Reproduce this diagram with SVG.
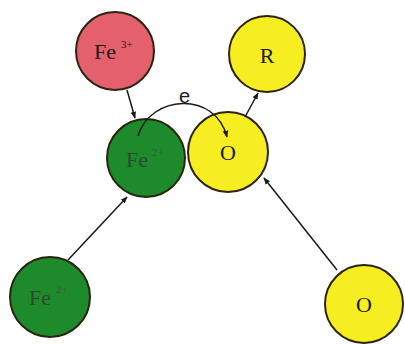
<svg xmlns="http://www.w3.org/2000/svg" width="405" height="344" viewBox="0 0 405 344">
<defs>
<style>
.n{stroke:#2a2410;stroke-width:2}
.red{fill:#e3606c}
.grn{fill:#1d8b2c}
.yel{fill:#f7ee22}
.t{font-family:"Liberation Serif",serif;font-size:22px;fill:#1a1a1a;text-anchor:middle}
.tg{fill:#2c4a30}
.sup{font-family:"Liberation Serif",serif;font-size:11px;fill:#1a1a1a}
.supg{fill:#3c5a3c}
.c{stroke:#1a1a1a;stroke-width:1.5;fill:none;marker-end:url(#a)}
.e{font-family:"Liberation Sans",sans-serif;font-size:20px;fill:#1a1a1a}
</style>
<marker id="a" viewBox="0 0 10 10" refX="9" refY="5" markerWidth="7" markerHeight="7" orient="auto" markerUnits="userSpaceOnUse">
<path d="M0,1 L10,5 L0,9 z" fill="#1a1a1a"/>
</marker>
</defs>
<rect width="405" height="344" fill="#fff"/>
<g id="fe3">
<circle class="n red" cx="115" cy="51" r="39"/>
<text class="t" x="105" y="59">Fe</text><text class="sup" x="121" y="48">3+</text>
</g>
<g id="fe2mid">
<circle class="n grn" cx="146" cy="158" r="39"/>
<text class="t tg" x="137" y="167">Fe</text><text class="sup supg" x="152" y="156">2+</text>
</g>
<g id="omid">
<circle class="n yel" cx="228" cy="152" r="40"/>
<text class="t" x="228" y="160">O</text>
</g>
<g id="r">
<circle class="n yel" cx="267" cy="54" r="38"/>
<text class="t" x="267" y="63">R</text>
</g>
<g id="fe2bot">
<circle class="n grn" cx="50" cy="297" r="40"/>
<text class="t tg" x="40" y="305">Fe</text><text class="sup supg" x="56" y="293">2+</text>
</g>
<g id="obot">
<circle class="n yel" cx="364" cy="304" r="39"/>
<text class="t" x="364" y="312">O</text>
</g>
<g id="connectors">
<line class="c" x1="127" y1="90" x2="135" y2="118"/>
<line class="c" x1="68" y1="260" x2="127" y2="197"/>
<line class="c" x1="337" y1="270" x2="264" y2="178"/>
<line class="c" x1="245" y1="117" x2="258" y2="93"/>
<path class="c" d="M138,136 C150,95 215,90 227,137"/>
<text class="e" x="179" y="103">e</text>
</g>
</svg>
